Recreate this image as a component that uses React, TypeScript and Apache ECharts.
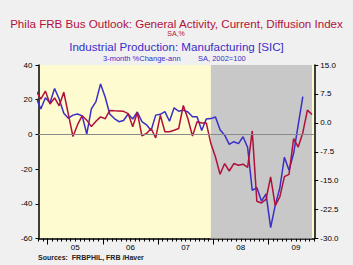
import React, { useEffect, useRef } from 'react';
import * as echarts from 'echarts';

// First month of the data (Oct 2004 -> index 0)
const startYear = 2004;
const startMonth = 10;

// Phila FRB Business Outlook: General Activity, Current (diffusion index, SA, %)
const philaGeneralActivity: number[] = [
  25, 20.4, 25,
  17.5, 21, 16.5, 24.3, 11.5, -1.2, 5.6, 10.8, 8.2, 4.5, 7.6, 10.1,
  9, 13.8, 13.6, 13.5, 13.3, 12, 4.4, 12.6, -0.8, 0.5, 3.4, -2,
  11, 1.5, 1.5, 2.4, 3.4, 16.7, 9, -1, 7.3, 6.6, 6.6, -5.3,
  -13, -23, -16.8, -21.1, -16.8, -17.8, -17.2, -19, 2, -38.5, -39.5, -37.5,
  -24.5, -41, -36, -24.3, -23, -2.4, -7.3, 1, 14, 11.5,
];

// Industrial Production: Manufacturing [SIC], 3-month % change annualized
const ipManufacturing3mAnn: number[] = [
  6.5, 3.6, 6.5,
  5.2, 8.9, 6.2, 2.5, 1.2, 2.0, 2.3, 1.8, -2.9, 3.6, 5.5, 10.1,
  6.7, 2.3, 1.1, 0.3, 0.6, 2.3, 1.0, 2.8, 0.3, -0.5, -2.0, 2.0,
  2.2, 2.9, 0.4, 3.9, 3.0, 3.3, 2.8, 1.6, 1.6, -2.0, 1.0, 1.1,
  1.5, -1.8, -3.2, -5.6, -4.9, -5.4, -3.6, -6.4, -17.5, -16.8, -20.3, -18.4,
  -27.2, -21.4, -16.9, -8.9, -12.3, -7.9, -0.5, 6.8,
];

const yearLabels = ['05', '06', '07', '08', '09'];
const recessionStart = '2007-12';
const recessionEnd = '2009-10';

const leftAxis = { min: -60, max: 40, interval: 20 };
const rightAxis = { min: -30, max: 15, interval: 7.5 };

const monthIndex = (ym: string) => {
  const [y, m] = ym.split('-').map(Number);
  return (y - startYear) * 12 + (m - startMonth);
};

const FONT = '"Liberation Sans", Arial, sans-serif';
const RED = '#b0103a';
const BLUE = '#3a2ec8';

export default function App() {
  const ref = useRef<HTMLDivElement>(null);
  useEffect(() => {
    if (!ref.current) return;
    const chart = echarts.init(ref.current, undefined, { renderer: 'svg' });
    const n = philaGeneralActivity.length;
    const xMin = 0.5;
    const xMax = n - 0.5;
    const monthTicks: number[] = [];
    for (let i = 0; i <= n - 1; i++) monthTicks.push(i + 0.5);
    const firstJan = monthIndex(`${startYear + 1}-01`);
    const yearTicks: number[] = [];
    const yearMids: number[] = [];
    yearLabels.forEach((_, k) => {
      yearTicks.push(firstJan + 12 * k - 0.5);
      yearMids.push(firstJan + 12 * k + 5.5);
    });
    const yearOf = (v: number) => {
      const abs = startYear * 12 + (startMonth - 1) + v;
      return Math.floor(abs / 12);
    };

    chart.setOption({
      animation: false,
      backgroundColor: '#f0f0f0',
      textStyle: { fontFamily: FONT },
      grid: {
        left: 38.5,
        right: 38.7,
        top: 65,
        bottom: 26.5,
        show: true,
        backgroundColor: '#fdfbcf',
        borderWidth: 0,
      },
      graphic: [
        {
          type: 'text',
          x: 176.5,
          y: 23.5,
          style: {
            text: 'Phila FRB Bus Outlook: General Activity, Current, Diffusion Index',
            fill: RED,
            font: `11.6px ${FONT}`,
            textAlign: 'center',
            textVerticalAlign: 'middle',
          },
        },
        {
          type: 'text',
          x: 176,
          y: 33,
          style: { text: 'SA,%', fill: RED, font: `7px ${FONT}`, textAlign: 'center', textVerticalAlign: 'middle' },
        },
        {
          type: 'text',
          x: 176.5,
          y: 46.5,
          style: {
            text: 'Industrial Production: Manufacturing [SIC]',
            fill: BLUE,
            font: `11.6px ${FONT}`,
            textAlign: 'center',
            textVerticalAlign: 'middle',
          },
        },
        {
          type: 'text',
          x: 103,
          y: 58,
          style: { text: '3-month %Change-ann', fill: BLUE, font: `7.5px ${FONT}`, textAlign: 'left', textVerticalAlign: 'middle' },
        },
        {
          type: 'text',
          x: 198,
          y: 58,
          style: { text: 'SA, 2002=100', fill: BLUE, font: `7.5px ${FONT}`, textAlign: 'left', textVerticalAlign: 'middle' },
        },
        {
          type: 'text',
          x: 38,
          y: 257,
          style: {
            text: 'Sources:  FRBPHIL, FRB /Haver',
            fill: '#222',
            font: `bold 7px ${FONT}`,
            textAlign: 'left',
            textVerticalAlign: 'middle',
          },
        },
      ],
      xAxis: [
        {
          type: 'value',
          min: xMin,
          max: xMax,
          position: 'bottom',
          axisLine: { show: true, onZero: false, lineStyle: { color: '#000', width: 1.5 } },
          axisTick: { show: true, customValues: monthTicks, length: 3, lineStyle: { color: '#000', width: 1 } },
          axisLabel: { show: false },
          splitLine: { show: false },
        },
        {
          type: 'value',
          min: xMin,
          max: xMax,
          position: 'bottom',
          axisLine: { show: false, onZero: false },
          axisTick: { show: true, customValues: yearTicks, length: 6, lineStyle: { color: '#000', width: 1 } },
          axisLabel: {
            show: true,
            customValues: yearMids,
            formatter: (v: number) => String(yearOf(v) % 100).padStart(2, '0'),
            fontSize: 8,
            color: '#000',
            margin: 5,
            fontFamily: FONT,
          },
          splitLine: { show: false },
        },
      ],
      yAxis: [
        {
          type: 'value',
          position: 'left',
          min: leftAxis.min,
          max: leftAxis.max,
          interval: leftAxis.interval,
          axisLine: { show: true, onZero: false, lineStyle: { color: '#000', width: 1.5 } },
          axisTick: { show: true, length: 3, lineStyle: { color: '#000' } },
          axisLabel: { fontSize: 8, color: '#000', margin: 6, fontFamily: FONT },
          splitLine: { show: false },
        },
        {
          type: 'value',
          position: 'right',
          min: rightAxis.min,
          max: rightAxis.max,
          interval: rightAxis.interval,
          axisLine: { show: true, onZero: false, lineStyle: { color: '#000', width: 1.5 } },
          axisTick: { show: true, length: 4, lineStyle: { color: '#000' } },
          axisLabel: {
            fontSize: 8,
            color: '#000',
            margin: 6,
            fontFamily: FONT,
            formatter: (v: number) => v.toFixed(1),
          },
          splitLine: { show: false },
        },
      ],
      series: [
        {
          type: 'line',
          name: 'IP',
          xAxisIndex: 0,
          yAxisIndex: 1,
          data: ipManufacturing3mAnn.map((v, i) => [i, v]),
          showSymbol: false,
          symbol: 'none',
          clip: true,
          z: 3,
          lineStyle: { color: BLUE, width: 1.5 },
          markArea: {
            silent: true,
            itemStyle: { color: '#c8c8c8' },
            data: [[{ xAxis: monthIndex(recessionStart) }, { xAxis: monthIndex(recessionEnd) }]],
          },
        },
        {
          type: 'line',
          name: 'Phila',
          xAxisIndex: 0,
          yAxisIndex: 0,
          data: philaGeneralActivity.map((v, i) => [i, v]),
          showSymbol: false,
          symbol: 'none',
          clip: true,
          z: 4,
          lineStyle: { color: RED, width: 1.5 },
          markLine: {
            silent: true,
            symbol: 'none',
            label: { show: false },
            lineStyle: { color: '#8a8a8a', width: 1, type: 'solid' },
            data: [{ yAxis: 0 }],
          },
        },
      ],
    });
    return () => chart.dispose();
  }, []);
  return (
    <div
      ref={ref}
      style={{ position: 'fixed', left: 0, top: 0, width: 353, height: 265 }}
    />
  );
}
